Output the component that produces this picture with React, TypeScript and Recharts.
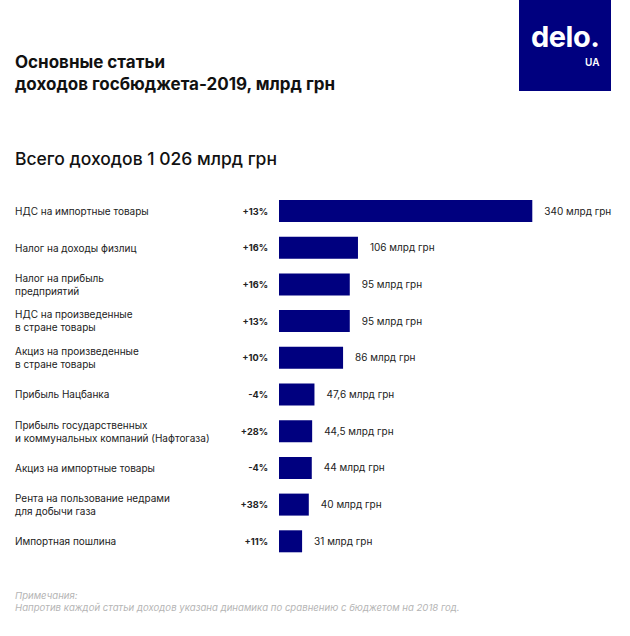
import React from 'react';
import { BarChart, Bar, XAxis, YAxis, LabelList } from 'recharts';

const categories = [
  'НДС на импортные товары',
  'Налог на доходы физлиц',
  'Налог на прибыль\nпредприятий',
  'НДС на произведенные\nв стране товары',
  'Акциз на произведенные\nв стране товары',
  'Прибыль Нацбанка',
  'Прибыль государственных\nи коммунальных компаний (Нафтогаза)',
  'Акциз на импортные товары',
  'Рента на пользование недрами\nдля добычи газа',
  'Импортная пошлина',
];
const revenues = [340, 106, 95, 95, 86, 47.6, 44.5, 44, 40, 31];
const changes = ['+13%', '+16%', '+16%', '+13%', '+10%', '-4%', '+28%', '-4%', '+38%', '+11%'];

const data = categories.map((name, i) => ({ name, value: revenues[i], change: changes[i] }));

const FONT = 'Inter, "Noto Sans", sans-serif';
const NAVY = '#00007f';
const TEXT = '#222';

const CategoryTick = (props: any) => {
  const { y, index } = props;
  const row = data[index];
  const lines = row.name.split('\n');
  const lh = 13;
  const y0 = y - ((lines.length - 1) * lh) / 2;
  return (
    <g>
      <text x={15} y={y0} dy="0.35em" fontSize={10} fill={TEXT} fontFamily={FONT}>
        {lines.map((l: string, k: number) => (
          <tspan key={k} x={15} y={y0 + k * lh} dy="0.35em">{l}</tspan>
        ))}
      </text>
      <text x={268} y={y} dy="0.35em" textAnchor="end" fontSize={9.2} fontWeight={700} fill={TEXT} fontFamily={FONT}>
        {row.change}
      </text>
    </g>
  );
};

const fmt = (v: number) => `${String(v).replace('.', ',')} млрд грн`;

const ValueLabel = (props: any) => {
  const { x, y, width, height, value } = props;
  return (
    <text x={x + width + 12} y={y + height / 2} dy="0.35em" fontSize={10} fill={TEXT} fontFamily={FONT}>
      {fmt(value)}
    </text>
  );
};

export default function App() {
  return (
    <div style={{ position: 'absolute', left: 0, top: 0, width: 630, height: 636, background: '#fff', fontFamily: FONT, overflow: 'hidden' }}>
      <div style={{ position: 'absolute', left: 15, top: 51, fontSize: 17, fontWeight: 700, lineHeight: '22px', color: '#111' }}>
        Основные статьи<br />доходов госбюджета-2019, млрд грн
      </div>
      <div style={{ position: 'absolute', left: 519, top: 0, width: 92, height: 91, background: NAVY }}>
        <div style={{ position: 'absolute', left: 12, top: 22, fontSize: 29, fontWeight: 700, color: '#fff', letterSpacing: -0.5, lineHeight: '30px' }}>delo.</div>
        <div style={{ position: 'absolute', left: 66, top: 56, fontSize: 10, fontWeight: 600, color: '#fff' }}>UA</div>
      </div>
      <div style={{ position: 'absolute', left: 15, top: 148, fontSize: 17.5, fontWeight: 500, color: '#111' }}>
        Всего доходов 1 026 млрд грн
      </div>
      <div style={{ position: 'absolute', left: 0, top: 0 }}>
        <BarChart
          width={630}
          height={636}
          data={data}
          layout="vertical"
          margin={{ top: 193, right: 53, bottom: 76, left: 15 }}
          barCategoryGap={0}
        >
          <XAxis type="number" domain={[0, 400]} hide />
          <YAxis type="category" dataKey="name" width={264} axisLine={false} tickLine={false} tick={<CategoryTick />} interval={0} />
          <Bar dataKey="value" fill={NAVY} barSize={22} isAnimationActive={false}>
            <LabelList dataKey="value" content={<ValueLabel />} />
          </Bar>
        </BarChart>
      </div>
      <div style={{ position: 'absolute', left: 15, top: 590, fontSize: 9.6, fontStyle: 'italic', color: '#b5b5b5', lineHeight: '12px' }}>
        Примечания:<br />Напротив каждой статьи доходов указана динамика по сравнению с бюджетом на 2018 год.
      </div>
    </div>
  );
}
